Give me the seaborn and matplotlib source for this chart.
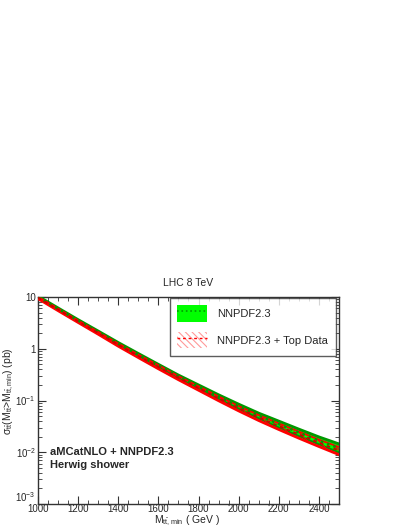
import matplotlib
matplotlib.use("Agg")
import matplotlib.pyplot as plt
import matplotlib.ticker as mticker
from matplotlib.patches import Patch
from matplotlib.lines import Line2D
import numpy as np
import pandas as pd
import seaborn as sns


# Chart data
mtt_min = [1000, 1100, 1200, 1300, 1400, 1500, 1600, 1700, 1800,
           1900, 2000, 2100, 2200, 2300, 2400, 2500]

nnpdf_central = [10.0, 5.9, 3.5, 2.1, 1.25, 0.76, 0.47, 0.29, 0.185,
                 0.118, 0.077, 0.051, 0.035, 0.024, 0.0168, 0.0120]
nnpdf_upper = [10.4, 6.15, 3.65, 2.2, 1.32, 0.81, 0.50, 0.31, 0.20,
               0.129, 0.085, 0.057, 0.040, 0.028, 0.0198, 0.0145]
nnpdf_lower = [9.7, 5.7, 3.38, 2.02, 1.19, 0.72, 0.44, 0.27, 0.170,
               0.107, 0.069, 0.045, 0.030, 0.0205, 0.0142, 0.0099]

top_central = [9.75, 5.72, 3.38, 2.02, 1.19, 0.72, 0.445, 0.275, 0.174,
               0.110, 0.071, 0.047, 0.032, 0.022, 0.0153, 0.0108]
top_upper = [10.1, 5.95, 3.52, 2.11, 1.26, 0.77, 0.48, 0.295, 0.188,
             0.120, 0.078, 0.052, 0.036, 0.025, 0.0175, 0.0126]
top_lower = [9.3, 5.45, 3.22, 1.91, 1.12, 0.675, 0.41, 0.252, 0.158,
             0.099, 0.063, 0.041, 0.0275, 0.0187, 0.0129, 0.0090]

x_ticks = [1000, 1200, 1400, 1600, 1800, 2000, 2200, 2400]
y_ticks = [1e-3, 1e-2, 1e-1, 1, 10]
y_tick_labels = [r'$10^{-3}$', r'$10^{-2}$', r'$10^{-1}$', '1', '10']

legend_labels = ['NNPDF2.3', 'NNPDF2.3 + Top Data']

df = pd.DataFrame({
    'mtt': mtt_min,
    'nnpdf': nnpdf_central,
    'top': top_central,
})

sns.set_theme(style='ticks')
plt.rcParams['font.family'] = ['Liberation Sans', 'DejaVu Sans']
plt.rcParams['mathtext.default'] = 'regular'
plt.rcParams['hatch.linewidth'] = 0.8

fig = plt.figure(figsize=(4.07, 5.27), dpi=100)
ax = fig.add_axes([38 / 407, 1 - 504 / 527, 301 / 407, 207 / 527])

green = '#00ff00'
dgreen = '#009900'
red = '#ff0000'

# NNPDF2.3 band (solid green)
ax.fill_between(mtt_min, nnpdf_lower, nnpdf_upper, color=green, lw=0, zorder=2)
ax.plot(mtt_min, nnpdf_upper, color=dgreen, lw=2.0, zorder=3)
ax.plot(mtt_min, nnpdf_lower, color=dgreen, lw=1.6, zorder=3)

# NNPDF2.3 + top data band (red hatch)
ax.fill_between(mtt_min, top_lower, top_upper, facecolor='none',
                edgecolor=red, hatch='\\\\\\', lw=0, zorder=4)
ax.plot(mtt_min, top_upper, color=red, lw=1.3, zorder=5)
ax.plot(mtt_min, top_lower, color=red, lw=2.0, zorder=5)

# central values
sns.lineplot(data=df, x='mtt', y='nnpdf', ax=ax, color=dgreen,
             linestyle=':', lw=1.8, zorder=6)
sns.lineplot(data=df, x='mtt', y='top', ax=ax, color='#cc0000',
             linestyle=(0, (2, 2)), lw=1.3, zorder=6)

ax.set_yscale('log')
ax.set_xlim(1000, 2500)
ax.set_ylim(1e-3, 10)
ax.set_xlabel('')
ax.set_ylabel('')

ax.set_xticks(x_ticks)
ax.xaxis.set_minor_locator(mticker.MultipleLocator(50))
ax.yaxis.set_major_locator(mticker.FixedLocator(y_ticks))
ax.yaxis.set_major_formatter(mticker.FixedFormatter(y_tick_labels))
ax.yaxis.set_minor_locator(mticker.LogLocator(base=10, subs=np.arange(2, 10)))
ax.yaxis.set_minor_formatter(mticker.NullFormatter())

ax.tick_params(which='both', direction='in', top=True, right=True,
               color='#333333')
ax.tick_params(axis='x', pad=0.3, labelsize=7)
ax.tick_params(axis='y', pad=1.5, labelsize=7)
ax.tick_params(which='major', length=6, width=0.8)
ax.tick_params(which='minor', length=3, width=0.6)
for sp in ax.spines.values():
    sp.set_linewidth(1.0)
    sp.set_color('#333333')
# lift the lowest y label a touch so it clears "1000"
ax.get_yticklabels()[0].set_verticalalignment('bottom')

# legend
handles = [
    (Patch(facecolor=green, edgecolor='none'),
     Line2D([], [], color=dgreen, ls=':', lw=1.2)),
    (Patch(facecolor='white', edgecolor='#ff9999', hatch='\\\\\\\\\\', lw=0),
     Line2D([], [], color=red, ls=(0, (2, 2)), lw=1.0)),
]
leg = ax.legend(handles, legend_labels, loc='upper right',
                bbox_to_anchor=(0.99, 0.997), fontsize=8, frameon=True,
                fancybox=False, edgecolor='#333333', borderpad=0.7,
                handlelength=2.7, handleheight=1.9, handletextpad=0.9,
                labelspacing=0.9, borderaxespad=0.0)
leg.get_frame().set_linewidth(1.0)

fig.text(188 / 407, 1 - 283 / 527, 'LHC 8 TeV', ha='center', va='center',
         fontsize=7.5)
fig.text(187 / 407, 1 - 523 / 527,
         r'M$_{t\bar{t},min}$ ( GeV )', ha='center', va='baseline',
         fontsize=7.5)
fig.text(9 / 407, 1 - 391 / 527,
         r'$\sigma_{t\bar{t}}$(M$_{t\bar{t}}$>M$_{t\bar{t},min}$) (pb)',
         rotation=90, ha='center', va='center', fontsize=7.5)

fig.text(50 / 407, 1 - 452 / 527, 'aMCatNLO + NNPDF2.3', ha='left',
         va='center', fontsize=8, fontweight='bold')
fig.text(50 / 407, 1 - 465 / 527, 'Herwig shower', ha='left',
         va='center', fontsize=8, fontweight='bold')

fig.savefig('out.png', dpi=100)
